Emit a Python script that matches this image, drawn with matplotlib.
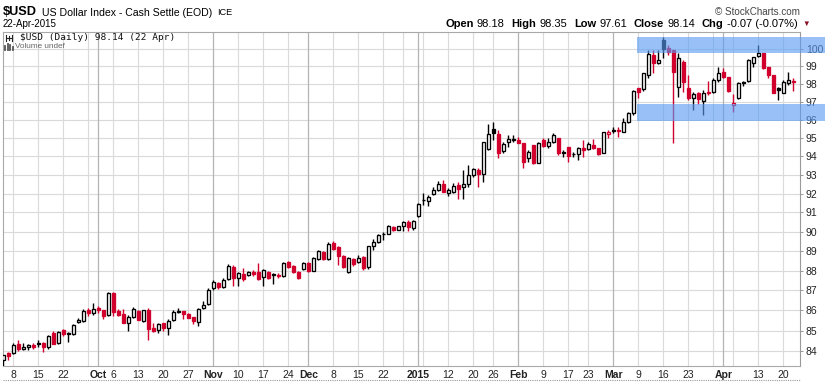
import numpy as np
import pandas as pd
import matplotlib
matplotlib.use("Agg")
import matplotlib.pyplot as plt
from matplotlib.patches import Rectangle
from matplotlib.lines import Line2D

plt.rcParams['font.family'] = ['Liberation Sans', 'DejaVu Sans']

# $USD daily candles, 4-Sep-2014 .. 22-Apr-2015
holidays = ["2014-11-27", "2014-12-25", "2015-01-01", "2015-01-19",
            "2015-02-16", "2015-04-03"]

opens = [83.55, 83.93, 83.90, 84.33, 84.12, 84.22, 84.30, 84.37, 84.40, 84.22,
         84.88, 84.38, 85.02, 84.88, 84.85, 85.40, 85.45, 86.00, 85.85, 86.10,
         86.00, 85.75, 86.88, 85.95, 85.80, 85.38, 85.68, 85.95, 85.45, 86.03,
         85.12, 85.05, 85.38, 85.13, 85.50, 85.97, 85.95, 85.83, 85.65, 85.42,
         86.12, 86.30, 87.13, 87.38, 87.15, 87.57, 88.19, 87.62, 87.83, 87.78,
         87.90, 87.94, 87.66, 87.94, 87.80, 87.76, 87.73, 88.44, 88.23, 87.94,
         88.08, 88.39, 87.99, 88.61, 88.95, 88.61, 89.41, 89.21, 88.73, 87.94,
         88.60, 88.44, 88.68, 88.16, 89.24, 89.46, 89.90, 89.89, 90.23, 90.10,
         90.27, 90.48, 90.20, 90.80, 91.68, 91.58, 91.98, 92.18, 92.50, 92.02,
         92.10, 92.45, 92.33, 92.50, 92.98, 93.25, 93.02, 94.38, 95.47, 95.22,
         94.30, 94.79, 94.90, 94.88, 94.70, 93.89, 94.61, 93.66, 94.88, 94.58,
         94.75, 95.02, 94.24, 94.52, 94.14, 94.11, 94.43, 94.40, 94.61, 94.43,
         94.19, 95.22, 95.36, 95.45, 95.34, 95.89, 96.35, 97.76, 97.70, 98.51,
         99.65, 99.18, 100.52, 100.04, 99.94, 97.82, 99.27, 97.80, 97.20, 97.50,
         97.06, 97.56, 97.56, 98.23, 98.70, 98.41, 96.82, 97.19, 98.13, 98.18,
         99.18, 99.62, 99.75, 98.98, 98.51, 97.80, 97.52, 98.04, 98.18]

highs = [83.82, 83.95, 84.38, 84.55, 84.40, 84.36, 84.38, 84.55, 84.42, 84.77,
         85.00, 84.97, 85.08, 84.93, 85.33, 85.60, 86.07, 86.12, 86.35, 86.20,
         86.00, 86.92, 86.92, 86.05, 86.05, 85.75, 86.18, 86.02, 86.03, 86.12,
         85.38, 85.35, 85.38, 85.55, 86.02, 86.12, 85.98, 85.85, 85.65, 86.12,
         86.45, 87.10, 87.50, 87.42, 87.62, 88.33, 88.28, 87.94, 88.11, 88.00,
         88.05, 88.39, 88.06, 88.00, 87.86, 87.86, 88.44, 88.49, 88.28, 87.99,
         88.44, 88.44, 88.70, 89.04, 89.00, 89.46, 89.51, 89.24, 88.78, 88.70,
         88.62, 88.78, 88.73, 89.26, 89.63, 89.85, 89.97, 90.36, 90.27, 90.30,
         90.57, 90.60, 90.60, 91.50, 92.02, 91.93, 92.33, 92.67, 92.71, 92.27,
         92.57, 92.63, 93.25, 93.52, 93.35, 93.35, 94.79, 95.78, 95.85, 95.43,
         94.79, 95.16, 95.16, 95.07, 94.70, 94.34, 94.61, 94.79, 94.97, 94.97,
         95.25, 95.02, 94.34, 94.52, 94.25, 94.52, 94.88, 94.79, 94.92, 94.43,
         95.34, 95.43, 95.61, 95.61, 96.08, 96.44, 97.66, 97.80, 98.65, 99.94,
         99.94, 99.94, 100.71, 100.23, 99.94, 99.75, 99.37, 98.51, 97.56, 97.56,
         97.66, 98.20, 98.32, 98.98, 98.89, 98.41, 97.44, 98.13, 98.20, 99.42,
         99.56, 100.23, 99.80, 98.98, 98.51, 97.85, 98.23, 98.70, 98.35]

lows = [83.20, 83.58, 83.84, 84.02, 84.05, 84.05, 84.08, 84.22, 83.97, 84.08,
        84.33, 84.33, 84.72, 84.43, 84.80, 85.35, 85.40, 85.72, 85.75, 85.88,
        85.55, 85.72, 85.72, 85.72, 85.38, 85.00, 85.63, 85.50, 85.40, 84.52,
        84.95, 84.88, 84.97, 84.80, 85.47, 85.85, 85.55, 85.63, 85.30, 85.22,
        86.08, 86.25, 87.00, 87.05, 87.10, 87.54, 87.23, 87.23, 87.46, 87.70,
        87.70, 87.54, 87.23, 87.55, 87.31, 87.60, 87.66, 88.11, 87.89, 87.57,
        88.03, 87.94, 87.95, 88.55, 88.55, 88.55, 89.07, 88.28, 88.15, 87.85,
        88.25, 88.40, 88.03, 88.10, 89.04, 89.41, 89.54, 89.85, 90.05, 90.07,
        90.05, 90.02, 90.10, 90.75, 91.40, 91.36, 91.93, 92.15, 92.10, 91.88,
        92.05, 91.70, 91.70, 92.33, 92.89, 92.33, 92.63, 94.34, 94.88, 93.89,
        94.20, 94.52, 94.79, 94.70, 93.35, 93.71, 93.58, 93.62, 94.52, 94.43,
        94.70, 94.07, 93.98, 93.71, 93.98, 93.80, 93.98, 94.34, 94.38, 94.07,
        94.16, 94.97, 95.25, 95.07, 95.30, 95.80, 96.26, 97.19, 97.62, 98.37,
        98.60, 99.13, 99.47, 99.65, 94.70, 97.29, 97.56, 97.10, 96.54, 96.90,
        96.26, 97.40, 97.47, 98.13, 98.32, 97.56, 96.44, 97.14, 97.90, 98.13,
        98.98, 99.56, 98.84, 98.32, 97.47, 97.10, 97.47, 97.94, 97.61]

closes = [83.80, 83.76, 84.28, 84.08, 84.20, 84.32, 84.22, 84.36, 84.22, 84.72,
          84.35, 84.92, 84.82, 84.85, 85.27, 85.53, 85.95, 85.85, 86.05, 86.00,
          85.70, 86.85, 85.93, 85.78, 85.38, 85.68, 86.08, 85.50, 86.00, 85.08,
          85.00, 85.30, 85.12, 85.47, 85.92, 85.94, 85.80, 85.63, 85.45, 86.08,
          86.28, 87.00, 87.43, 87.18, 87.54, 88.23, 87.62, 87.86, 87.57, 87.94,
          87.84, 87.57, 88.03, 87.62, 87.76, 87.72, 88.39, 88.16, 87.94, 87.62,
          88.36, 87.99, 88.66, 88.99, 88.61, 89.34, 89.12, 88.73, 88.20, 88.63,
          88.33, 88.66, 88.11, 89.24, 89.46, 89.80, 89.88, 90.30, 90.10, 90.27,
          90.48, 90.23, 90.57, 91.45, 91.64, 91.79, 92.18, 92.53, 92.10, 92.18,
          92.40, 92.22, 92.50, 92.98, 93.29, 93.02, 94.75, 95.24, 95.26, 94.20,
          94.68, 94.92, 94.93, 94.70, 93.71, 94.25, 93.62, 94.70, 94.56, 94.79,
          95.16, 94.16, 94.20, 94.02, 94.11, 94.43, 94.34, 94.65, 94.43, 94.11,
          95.34, 95.30, 95.43, 95.38, 95.89, 96.35, 97.62, 97.56, 98.61, 99.70,
          99.18, 99.37, 99.98, 99.85, 98.70, 99.50, 98.13, 97.24, 97.42, 97.14,
          97.52, 97.48, 98.23, 98.65, 98.41, 97.62, 96.95, 98.04, 98.06, 99.37,
          99.52, 99.75, 98.89, 98.51, 97.52, 97.66, 98.13, 98.21, 98.14]

# date axis labels
label_dates = ["2014-09-08", "2014-09-15", "2014-09-22", "2014-10-01", "2014-10-06",
               "2014-10-13", "2014-10-20", "2014-10-27", "2014-11-03", "2014-11-10",
               "2014-11-17", "2014-11-24", "2014-12-01", "2014-12-08", "2014-12-15",
               "2014-12-22", "2015-01-02", "2015-01-12", "2015-01-20", "2015-01-26",
               "2015-02-02", "2015-02-09", "2015-02-17", "2015-02-23", "2015-03-02",
               "2015-03-09", "2015-03-16", "2015-03-23", "2015-04-01", "2015-04-13",
               "2015-04-20"]
label_text = ["8", "15", "22", "Oct", "6", "13", "20", "27", "Nov", "10", "17", "24",
              "Dec", "8", "15", "22", "2015", "12", "20", "26", "Feb", "9", "17", "23",
              "Mar", "9", "16", "23", "Apr", "13", "20"]

price_ticks = list(range(84, 101))

# support / resistance zones drawn on the chart
zone_start = "2015-03-09"
zones = [(99.80, 100.68), (95.94, 96.87)]

RED = '#d2002d'
BLACK = '#000000'
W, H = 836, 382

dates = pd.bdate_range("2014-09-04", "2015-04-22")
dates = dates[~dates.isin(pd.to_datetime(holidays))]
n = len(dates)

fig = plt.figure(figsize=(W / 100, H / 100), dpi=100)
ax = fig.add_axes([3 / W, (H - 366) / H, (800 - 3) / W, (366 - 32) / H])
ax.set_yscale('log')
ax.set_xlim(-0.06, 159.34)
ax.set_ylim(83.28, 100.99)

# grid: weekly lines, darker month lines, one line per price unit
for p in price_ticks:
    ax.axhline(p, color='#dadada', lw=0.8, zorder=0)
week = dates.isocalendar().week.values
month = dates.month.values
for i in range(1, n):
    if month[i] != month[i - 1]:
        ax.axvline(i, color='#b4b4b4', lw=0.9, zorder=0)
    elif week[i] != week[i - 1]:
        ax.axvline(i, color='#dadada', lw=0.8, zorder=0)

# candles: hollow when close >= open, red when close < previous close
prev = [opens[0]] + closes[:-1]
for i in range(n):
    o, hi, lo, c = opens[i], highs[i], lows[i], closes[i]
    col = BLACK if c >= prev[i] else RED
    ax.vlines(i, lo, hi, color=col, lw=1.0, zorder=3)
    bot, top = min(o, c), max(o, c)
    face = 'white' if c >= o else col
    ax.add_patch(Rectangle((i - 0.33, bot), 0.66, top - bot, facecolor=face,
                           edgecolor=col, lw=0.95, zorder=4))

# blue zones (reach past the price axis like in the original)
zx0 = np.searchsorted(dates, pd.Timestamp(zone_start)) - 0.3
for lo, hi in zones:
    ax.add_patch(Rectangle((zx0, lo), 164.3 - zx0, hi - lo, facecolor='#5a9cf5',
                           alpha=0.62, lw=0, zorder=5, clip_on=False))

# axes styling
for s in ['left', 'top', 'bottom']:
    ax.spines[s].set_color('#a8a8a8')
    ax.spines[s].set_linewidth(0.8)
ax.spines['right'].set_color('#999999')
ax.spines['right'].set_linestyle((0, (1, 1)))
ax.spines['right'].set_linewidth(0.8)

ax.yaxis.tick_right()
ax.set_yticks(price_ticks)
ax.set_yticklabels([str(p) for p in price_ticks])
ax.yaxis.set_minor_locator(matplotlib.ticker.NullLocator())
ax.tick_params(axis='y', which='major', length=2.5, width=0.6, color='#888888',
               pad=1.8, labelsize=7.5, labelcolor='#222222')

pos = [int(np.searchsorted(dates, pd.Timestamp(d))) for d in label_dates]
ax.set_xticks(pos)
ax.set_xticklabels(label_text)
ax.tick_params(axis='x', length=0, pad=3.0, labelsize=7.5, labelcolor='#222222')
for t in ax.get_xticklabels():
    if not t.get_text().isdigit() or len(t.get_text()) == 4:
        t.set_fontweight('bold')

# dotted base line under date labels
fig.add_artist(Line2D([3 / W, 800 / W], [1 - 380 / H] * 2, color='#999999',
                      lw=0.8, ls=(0, (1, 1))))


def fy(y):
    return 1 - y / H


# header
fig.text(3 / W, fy(12), "$USD", fontsize=9.2, fontweight='bold', va='center')
fig.text(42 / W, fy(12.5), "US Dollar Index - Cash Settle (EOD)", fontsize=7.6,
         va='center')
fig.text(217 / W, fy(12.5), "ICE", fontsize=6.6, va='center')
fig.text(3 / W, fy(24), "22-Apr-2015", fontsize=7.0, va='center')
fig.text(800 / W, fy(12), "\u00a9 StockCharts.com", fontsize=7.1, va='center',
         ha='right', color='#444444')

pieces = [("Open", True), ("98.18", False), ("High", True), ("98.35", False),
          ("Low", True), ("97.61", False), ("Close", True), ("98.14", False),
          ("Chg", True), ("-0.07 (-0.07%)", False)]
renderer = fig.canvas.get_renderer()
xp = 445.0
for txt, bold in pieces:
    t = fig.text(xp / W, fy(24), txt, fontsize=8.0,
                 fontweight='bold' if bold else 'normal', va='center')
    wpx = t.get_window_extent(renderer).width
    xp += wpx + (3 if bold else 7)
fig.text((xp - 2) / W, fy(24.5), "\u25bc", fontsize=5.5, color='#8b1024', va='center')

# in-chart legend
fig.text(20 / W, fy(38), "$USD (Daily) 98.14 (22 Apr)", fontsize=6.8,
         family='DejaVu Sans Mono', va='center', color='#111111')
for xx, y0, y1 in [(6, 35, 41), (9, 36, 40), (12, 35, 41)]:
    fig.add_artist(Line2D([xx / W] * 2, [fy(y0), fy(y1)], color='#222222', lw=0.8))
fig.add_artist(Line2D([6 / W, 12 / W], [fy(38)] * 2, color='#222222', lw=0.8))
fig.text(15 / W, fy(47), "Volume undef", fontsize=5.9, va='center', color='#666666')
for xx, y0 in [(5, 46), (7.5, 44), (10, 45), (12.5, 47)]:
    fig.add_artist(Line2D([xx / W] * 2, [fy(y0), fy(50)], color='#555555', lw=1.3))

fig.savefig("out.png", dpi=100)
